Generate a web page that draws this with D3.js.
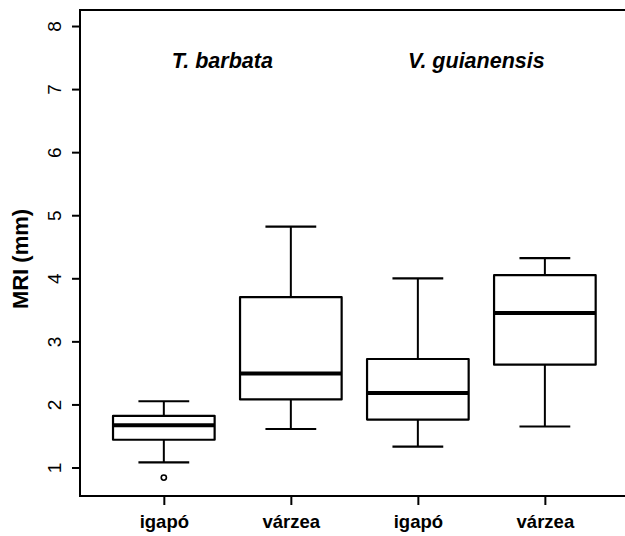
<!DOCTYPE html>
<html>
<head>
<meta charset="utf-8">
<script src="https://cdn.jsdelivr.net/npm/d3@7"></script>
<style>
  html, body { margin: 0; padding: 0; background: #fff; }
  svg { display: block; }
  text { font-family: "Liberation Sans", Arial, sans-serif; fill: #000; }
</style>
</head>
<body>
<svg id="chart" width="625" height="536"></svg>
<script>
// ---- data ----
const categories = ["igapó", "várzea", "igapó", "várzea"];
const species = ["T. barbata", "V. guianensis"];
const speciesPos = [1.5, 3.5];
const whiskerLow  = [1.08, 1.61, 1.33, 1.65];
const q1          = [1.44, 2.08, 1.76, 2.63];
const median      = [1.67, 2.49, 2.18, 3.45];
const q3          = [1.82, 3.70, 2.72, 4.05];
const whiskerHigh = [2.05, 4.82, 4.00, 4.32];
const outliers    = [[0.84], [], [], []];
const yTicks = [1, 2, 3, 4, 5, 6, 7, 8];
const yLabel = "MRI (mm)";

// ---- layout ----
const svg = d3.select("#chart");
const pLeft = 80, pRight = 628.7, pTop = 10, pBottom = 496;

const x = d3.scaleLinear().domain([0.34, 4.66]).range([pLeft, pRight]);
const y = d3.scaleLinear().domain([0.548, 8.254]).range([pBottom, pTop]);

const boxW = (x(2) - x(1)) * 0.8;
const capW = boxW / 2;

// frame
svg.append("rect")
  .attr("x", pLeft).attr("y", pTop)
  .attr("width", pRight - pLeft).attr("height", pBottom - pTop)
  .attr("fill", "none").attr("stroke", "#000").attr("stroke-width", 2);

// y axis
const yAxis = svg.append("g")
  .attr("transform", `translate(${pLeft},0)`)
  .call(d3.axisLeft(y).tickValues(yTicks).tickSize(8).tickSizeOuter(0).tickFormat(d3.format("d")));
yAxis.select(".domain").remove();
yAxis.selectAll(".tick line").attr("stroke", "#000").attr("stroke-width", 2);
yAxis.selectAll(".tick text")
  .attr("x", null).attr("dy", null).attr("y", null)
  .attr("text-anchor", "middle")
  .attr("transform", "translate(-19,0) rotate(-90)")
  .style("font-size", "19px")
  .style("font-family", "'Liberation Sans', Arial, sans-serif")
  .attr("fill", "#000");

// x axis
const xAxis = svg.append("g")
  .attr("transform", `translate(0,${pBottom})`)
  .call(d3.axisBottom(x).tickValues([1, 2, 3, 4]).tickSize(9).tickSizeOuter(0)
    .tickFormat(d => categories[d - 1]));
xAxis.select(".domain").remove();
xAxis.selectAll(".tick line").attr("stroke", "#000").attr("stroke-width", 2);
xAxis.selectAll(".tick text")
  .attr("y", 32).attr("dy", 0)
  .style("font-size", "18.5px").style("font-weight", "bold")
  .style("font-family", "'Liberation Sans', Arial, sans-serif")
  .attr("fill", "#000");

// y label
svg.append("text")
  .attr("transform", `translate(28,${(pTop + pBottom) / 2 + 6}) rotate(-90)`)
  .attr("text-anchor", "middle")
  .style("font-size", "22px").style("font-weight", "bold")
  .text(yLabel);

// species titles
svg.selectAll("text.species").data(species).enter().append("text")
  .attr("class", "species")
  .attr("x", (d, i) => x(speciesPos[i]) - 5)
  .attr("y", 68)
  .attr("text-anchor", "middle")
  .style("font-size", "21.5px").style("font-weight", "bold").style("font-style", "italic")
  .text(d => d);

// boxes
const idx = d3.range(categories.length);
const g = svg.append("g").attr("stroke", "#000").attr("fill", "none");

// whiskers
g.selectAll("line.wlo").data(idx).enter().append("line")
  .attr("x1", i => x(i + 1)).attr("x2", i => x(i + 1))
  .attr("y1", i => y(q1[i])).attr("y2", i => y(whiskerLow[i]))
  .attr("stroke-width", 2);
g.selectAll("line.whi").data(idx).enter().append("line")
  .attr("x1", i => x(i + 1)).attr("x2", i => x(i + 1))
  .attr("y1", i => y(q3[i])).attr("y2", i => y(whiskerHigh[i]))
  .attr("stroke-width", 2);
// caps
g.selectAll("line.clo").data(idx).enter().append("line")
  .attr("x1", i => x(i + 1) - capW / 2).attr("x2", i => x(i + 1) + capW / 2)
  .attr("y1", i => y(whiskerLow[i])).attr("y2", i => y(whiskerLow[i]))
  .attr("stroke-width", 2.2);
g.selectAll("line.chi").data(idx).enter().append("line")
  .attr("x1", i => x(i + 1) - capW / 2).attr("x2", i => x(i + 1) + capW / 2)
  .attr("y1", i => y(whiskerHigh[i])).attr("y2", i => y(whiskerHigh[i]))
  .attr("stroke-width", 2.2);
// box rect
g.selectAll("rect.box").data(idx).enter().append("rect")
  .attr("x", i => x(i + 1) - boxW / 2)
  .attr("width", boxW)
  .attr("y", i => y(q3[i]))
  .attr("height", i => y(q1[i]) - y(q3[i]))
  .attr("fill", "#fff")
  .attr("stroke-width", 2.2)
  .attr("stroke-linejoin", "round");
// median
g.selectAll("line.med").data(idx).enter().append("line")
  .attr("x1", i => x(i + 1) - boxW / 2).attr("x2", i => x(i + 1) + boxW / 2)
  .attr("y1", i => y(median[i])).attr("y2", i => y(median[i]))
  .attr("stroke-width", 4);
// outliers
const outPts = [];
outliers.forEach((arr, i) => arr.forEach(v => outPts.push({ i, v })));
g.selectAll("circle.out").data(outPts).enter().append("circle")
  .attr("cx", d => x(d.i + 1)).attr("cy", d => y(d.v))
  .attr("r", 2.6).attr("fill", "#fff").attr("stroke-width", 1.6);
</script>
</body>
</html>
